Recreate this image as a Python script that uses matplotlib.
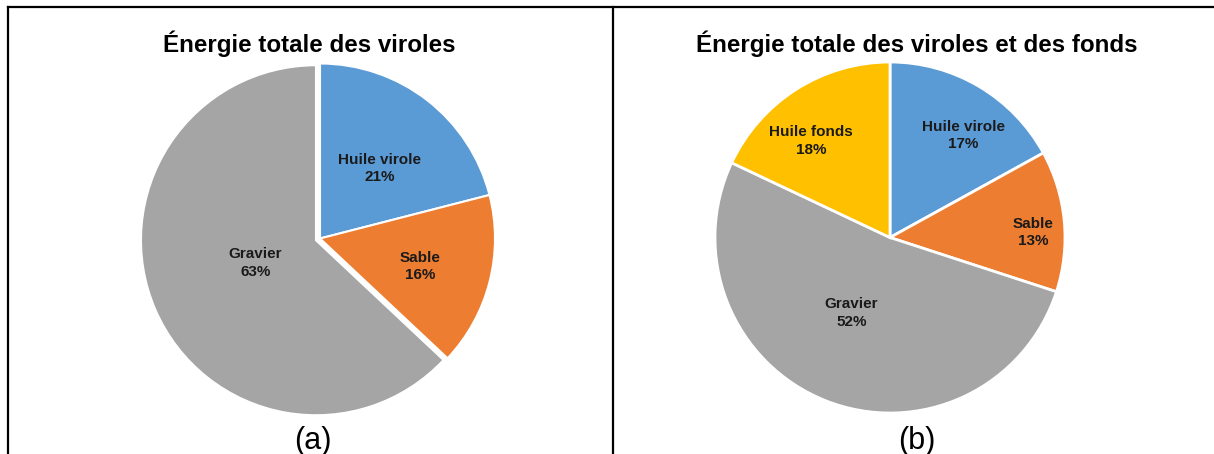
import matplotlib.pyplot as plt
from matplotlib.lines import Line2D

plt.rcParams['font.family'] = ['Liberation Sans', 'DejaVu Sans']

# data
labels_a = ['Huile virole', 'Sable', 'Gravier']
values_a = [21, 16, 63]
colors_a = ['#5B9BD5', '#ED7D31', '#A5A5A5']

labels_b = ['Huile virole', 'Sable', 'Gravier', 'Huile fonds']
values_b = [17, 13, 52, 18]
colors_b = ['#5B9BD5', '#ED7D31', '#A5A5A5', '#FFC000']

titles = ['Énergie totale des viroles', 'Énergie totale des viroles et des fonds']
captions = ['(a)', '(b)']

# label placement (fraction of radius, from the centre) like excel put them
labpos_a = [(0.34, 0.40), (0.57, -0.16), (-0.37, -0.14)]
labpos_b = [(0.42, 0.58), (0.82, 0.03), (-0.22, -0.43), (-0.45, 0.55)]

W, H = 1214, 454
fig = plt.figure(figsize=(W / 100, H / 100), dpi=100)


def draw_pie(ax, labels, values, colors, labpos, lw, explode=None):
    wedges, _ = ax.pie(values, colors=colors, startangle=90, counterclock=False,
                       explode=explode,
                       wedgeprops=dict(edgecolor='white', linewidth=lw))
    for w in wedges:
        w.set_clip_on(False)
    for lab, v, (x, y) in zip(labels, values, labpos):
        ax.text(x, y, f'{lab}\n{v}%', ha='center', va='center',
                fontsize=11, fontweight='bold', linespacing=1.3,
                color='#1a1a1a')
    ax.set_aspect('auto')
    ax.set_xlim(-1, 1)
    ax.set_ylim(-1, 1)


# pie axes, given in pixels (left, top, width, height)
def px_axes(left, top, w, h):
    return fig.add_axes([left / W, 1 - (top + h) / H, w / W, h / H])


ax1 = px_axes(145, 63.5, 350, 350)
draw_pie(ax1, labels_a, values_a, colors_a, labpos_a, 1.5,
         explode=[0, 0, 0.025])

ax2 = px_axes(715, 62, 350, 351)
draw_pie(ax2, labels_b, values_b, colors_b, labpos_b, 2)

# titles and captions
fig.text(309 / W, 1 - 44 / H, titles[0], ha='center', va='center',
         fontsize=17.4, fontweight='bold')
fig.text(916.5 / W, 1 - 44 / H, titles[1], ha='center', va='center',
         fontsize=17.4, fontweight='bold')
fig.text(313 / W, 1 - 441 / H, captions[0], ha='center', va='center', fontsize=22)
fig.text(917 / W, 1 - 441 / H, captions[1], ha='center', va='center', fontsize=22)

# table borders
fig.add_artist(Line2D([8 / W, 1], [1 - 7 / H, 1 - 7 / H], color='black', lw=1.6))
fig.add_artist(Line2D([8 / W, 8 / W], [0, 1 - 7 / H], color='black', lw=1.6))
fig.add_artist(Line2D([613 / W, 613 / W], [0, 1 - 7 / H], color='black', lw=1.6))

fig.savefig('out.png', dpi=100)
